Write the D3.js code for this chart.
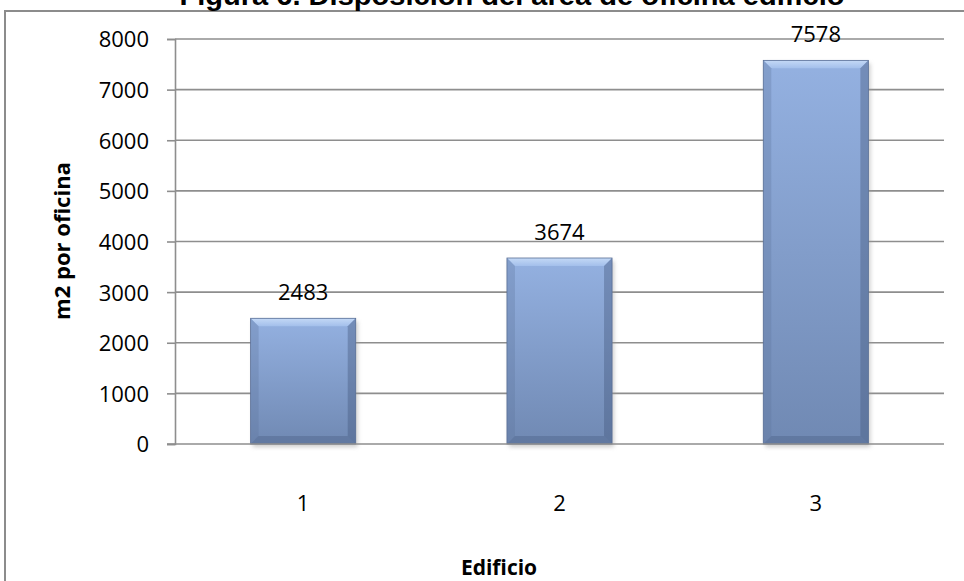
<!DOCTYPE html>
<html>
<head>
<meta charset="utf-8">
<script src="https://cdn.jsdelivr.net/npm/d3@7"></script>
<style>
  html, body { margin: 0; padding: 0; background: #fff; }
  svg { display: block; }
</style>
</head>
<body>
<svg id="chart" width="964" height="581"></svg>
<script>
// Office area per building
const categories = ["1", "2", "3"];
const values = [2483, 3674, 7578];
const yTicks = [0, 1000, 2000, 3000, 4000, 5000, 6000, 7000, 8000];
const titleText = "Figura 6. Disposición del área de oficina edificio";
const yLabel = "m2 por oficina";
const xLabel = "Edificio";

const W = 964, H = 581;
const plot = { left: 175, right: 944, top: 39, bottom: 444 };
const font = "'Open Sans', 'DejaVu Sans', sans-serif";

const svg = d3.select("#chart");

const x = d3.scaleBand().domain(categories)
  .range([plot.left, plot.right]).paddingInner(0.59).paddingOuter(0.295);
const y = d3.scaleLinear().domain([0, 8000]).range([plot.bottom, plot.top]);

const defs = svg.append("defs");
const body = defs.append("linearGradient").attr("id", "barBody")
  .attr("x1", 0).attr("y1", 0).attr("x2", 0).attr("y2", 1);
body.append("stop").attr("offset", "0%").attr("stop-color", "#94b1e1");
body.append("stop").attr("offset", "100%").attr("stop-color", "#7089b3");
const topBevel = defs.append("linearGradient").attr("id", "topBevel")
  .attr("x1", 0).attr("y1", 0).attr("x2", 0).attr("y2", 1);
topBevel.append("stop").attr("offset", "0%").attr("stop-color", "#c4d9f6");
topBevel.append("stop").attr("offset", "100%").attr("stop-color", "#a3bfeb");
const shadow = defs.append("filter").attr("id", "barShadow")
  .attr("x", "-20%").attr("y", "-20%").attr("width", "140%").attr("height", "140%");
shadow.append("feGaussianBlur").attr("stdDeviation", 2);

// outer chart frame (left and top edges visible)
svg.append("path")
  .attr("d", `M5,${H} L5,11 L${W},11`)
  .attr("fill", "none").attr("stroke", "#8c8c8c").attr("stroke-width", 2);

// title, running off the top of the page
svg.append("text")
  .attr("x", 512).attr("y", 5)
  .attr("text-anchor", "middle")
  .attr("font-family", "'Liberation Sans', Arial, sans-serif")
  .attr("font-weight", "bold").attr("font-size", 28)
  .attr("textLength", 665).attr("lengthAdjust", "spacingAndGlyphs")
  .text(titleText);

// horizontal gridlines
svg.append("g").selectAll("line").data(yTicks.filter(d => d > 0)).join("line")
  .attr("x1", plot.left).attr("x2", plot.right)
  .attr("y1", d => y(d)).attr("y2", d => y(d))
  .attr("stroke", "#8e8e8e").attr("stroke-width", 1.6);

// y axis
const yAxis = svg.append("g").attr("transform", `translate(${plot.left},0)`)
  .call(d3.axisLeft(y).tickValues(yTicks).tickFormat(d3.format("d"))
    .tickSize(8).tickPadding(18));
yAxis.select(".domain").attr("stroke", "#8e8e8e").attr("stroke-width", 1.6);
yAxis.selectAll(".tick line").attr("stroke", "#8e8e8e").attr("stroke-width", 1.6);
yAxis.selectAll(".tick text")
  .attr("font-family", font).attr("font-size", 22).attr("fill", "#000")
  .attr("dy", "0.36em");

// bars with bevelled edges
const bars = svg.append("g").selectAll("g").data(values).join("g");
bars.each(function (v, i) {
  const g = d3.select(this);
  const x0 = x(categories[i]), x1 = x0 + x.bandwidth();
  const y0 = y(v), y1 = y(0);
  const b = 8;
  g.append("rect")
    .attr("x", x0 + 2).attr("y", y0 + 3).attr("width", x1 - x0).attr("height", y1 - y0)
    .attr("fill", "#9a9a9a").attr("opacity", 0.5).attr("filter", "url(#barShadow)");
  g.append("rect")
    .attr("x", x0).attr("y", y0).attr("width", x1 - x0).attr("height", y1 - y0)
    .attr("fill", "url(#barBody)");
  g.append("polygon")
    .attr("points", [[x0, y0], [x1, y0], [x1 - b, y0 + b], [x0 + b, y0 + b]].join(" "))
    .attr("fill", "url(#topBevel)");
  g.append("polygon")
    .attr("points", [[x0, y0], [x0 + b, y0 + b], [x0 + b, y1 - b], [x0, y1]].join(" "))
    .attr("fill", "#5d739c").attr("opacity", 0.3);
  g.append("polygon")
    .attr("points", [[x1, y0], [x1 - b, y0 + b], [x1 - b, y1 - b], [x1, y1]].join(" "))
    .attr("fill", "#44587e").attr("opacity", 0.4);
  g.append("polygon")
    .attr("points", [[x0, y1], [x0 + b, y1 - b], [x1 - b, y1 - b], [x1, y1]].join(" "))
    .attr("fill", "#44587e").attr("opacity", 0.35);
  g.append("rect")
    .attr("x", x0).attr("y", y0).attr("width", x1 - x0).attr("height", y1 - y0)
    .attr("fill", "none").attr("stroke", "#5a6f96").attr("stroke-width", 0.8);
});

// baseline
svg.append("line")
  .attr("x1", plot.left - 8).attr("x2", plot.right)
  .attr("y1", y(0)).attr("y2", y(0))
  .attr("stroke", "#8e8e8e").attr("stroke-width", 1.6);

// value labels
svg.append("g").selectAll("text").data(values).join("text")
  .attr("x", (d, i) => x(categories[i]) + x.bandwidth() / 2)
  .attr("y", d => y(d) - 18)
  .attr("text-anchor", "middle")
  .attr("font-family", font).attr("font-size", 22).attr("fill", "#000")
  .text(d => d);

// category labels
svg.append("g").selectAll("text").data(categories).join("text")
  .attr("x", d => x(d) + x.bandwidth() / 2)
  .attr("y", 511)
  .attr("text-anchor", "middle")
  .attr("font-family", font).attr("font-size", 22).attr("fill", "#000")
  .text(d => d);

// axis titles
svg.append("text")
  .attr("transform", "translate(70,241) rotate(-90)")
  .attr("text-anchor", "middle")
  .attr("font-family", font).attr("font-weight", "bold").attr("font-size", 22)
  .text(yLabel);

svg.append("text")
  .attr("x", 499).attr("y", 575)
  .attr("text-anchor", "middle")
  .attr("font-family", font).attr("font-weight", "bold").attr("font-size", 21)
  .text(xLabel);
</script>
</body>
</html>
